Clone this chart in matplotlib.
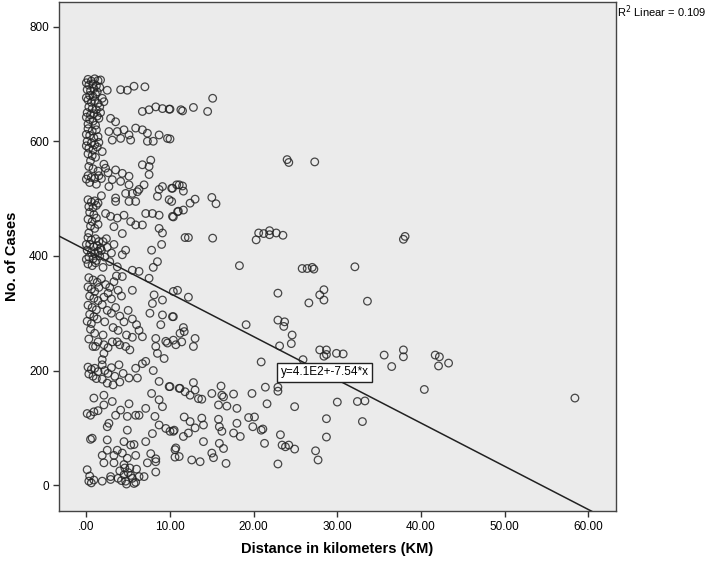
import matplotlib.pyplot as plt
import numpy as np

# distance (km), cases, grouped by region
near_column = [
    (0.2, 708), (0.6, 705), (1.0, 709), (1.4, 706), (0.3, 698), (0.8, 700), (1.2, 697),
    (0.1, 690), (0.5, 688), (0.9, 692), (1.3, 686), (0.4, 680), (0.8, 678), (1.1, 682),
    (0.2, 672), (0.6, 668), (1.0, 671), (1.4, 666), (0.3, 660), (0.7, 657), (1.2, 655),
    (0.1, 650), (0.5, 646), (0.9, 648), (1.3, 644), (0.4, 638), (0.8, 635), (1.5, 640),
    (0.2, 630), (1.1, 628), (1.7, 707), (1.9, 675), (0.0, 702), (1.6, 694), (0.0, 676),
    (1.6, 660), (0.0, 642), (1.7, 650),
    (0.2, 622), (0.7, 618), (1.2, 620), (0.4, 610), (0.9, 606), (1.4, 608), (0.1, 600),
    (0.6, 597), (1.0, 594), (0.3, 588), (0.8, 585), (1.3, 590), (0.2, 578), (0.7, 575),
    (1.1, 572), (0.5, 566), (1.9, 582), (0.0, 592), (1.5, 598), (0.0, 612),
    (0.3, 556), (0.8, 552), (1.4, 548), (0.2, 540), (0.6, 537), (1.0, 535), (1.5, 540),
    (0.4, 528), (1.2, 525), (0.0, 534),
    (0.2, 498), (0.6, 494), (1.0, 496), (1.4, 492), (0.3, 486), (0.8, 484), (1.2, 488),
    (0.4, 476), (0.9, 472), (0.2, 464), (0.7, 460), (1.2, 466), (0.5, 452), (1.0, 448),
    (0.3, 440), (1.4, 455),
    (0.2, 432), (0.6, 428), (1.1, 430), (1.5, 425), (0.4, 420), (0.9, 416), (1.3, 418),
    (0.1, 410), (0.6, 406), (1.0, 404), (1.4, 408), (0.3, 398), (0.8, 395), (1.2, 392),
    (0.2, 386), (0.7, 383), (1.1, 388), (1.6, 400), (0.0, 420), (1.7, 414), (0.0, 394),
    (0.3, 362), (0.8, 358), (1.3, 354), (0.2, 346), (0.6, 342), (1.0, 338), (1.5, 345),
    (0.4, 330), (0.9, 326), (1.4, 322),
    (0.2, 314), (0.7, 310), (1.2, 306), (0.4, 298), (0.9, 294), (0.1, 286), (0.6, 282),
    (1.3, 290),
    (0.5, 272), (1.0, 265), (0.3, 255), (1.4, 250), (0.8, 242), (1.1, 242),
    (0.2, 206), (0.6, 202), (1.0, 204), (1.4, 198), (0.3, 194), (0.8, 190), (1.2, 186),
    (1.9, 219), (1.9, 210),
    (0.9, 152), (0.1, 125), (0.5, 122), (0.9, 128), (1.4, 130),
    (0.7, 82), (0.5, 80),
    (0.1, 27), (0.3, 7), (0.9, 9), (0.4, 16), (0.6, 4),
]

inner_band = [
    (2.1, 669), (2.5, 689), (2.9, 640), (3.5, 634), (2.7, 617), (3.1, 602), (3.7, 617),
    (4.5, 620), (5.1, 611), (5.9, 623), (6.7, 620), (7.3, 614), (7.3, 600), (4.1, 605),
    (5.3, 602), (2.3, 553), (3.5, 550), (4.3, 544), (5.1, 539), (3.1, 533), (4.1, 530),
    (2.7, 521), (5.1, 524), (6.3, 516), (6.9, 524), (4.7, 509), (5.5, 509), (6.1, 512),
    (3.5, 501), (2.1, 560), (2.6, 545), (1.8, 535), (1.8, 505),
    (4.1, 690), (4.9, 689), (5.7, 696), (7.0, 695), (6.7, 652), (7.5, 655), (7.7, 567),
    (6.7, 559), (7.5, 556), (7.5, 542), (8.3, 660),
    (3.5, 495), (5.1, 495), (5.9, 495), (2.3, 474), (2.9, 469), (3.7, 466), (4.5, 471),
    (5.3, 460), (5.9, 454), (6.7, 454), (7.1, 474), (7.9, 474), (3.3, 451), (4.3, 439),
    (4.3, 402), (4.7, 410), (3.7, 381), (5.5, 375), (6.3, 373), (7.5, 361), (5.5, 340),
    (2.0, 425), (2.5, 415), (3.0, 405), (2.2, 398), (2.8, 390), (3.3, 420), (1.8, 410),
    (2.0, 380), (2.4, 430),
    (1.8, 360), (2.3, 350), (2.8, 345), (3.3, 355), (3.8, 340), (4.2, 330), (2.1, 328),
    (2.6, 335), (3.0, 325), (3.6, 365), (4.3, 364),
    (1.9, 315), (2.5, 305), (3.0, 300), (3.5, 310), (4.0, 295), (4.5, 285), (5.0, 305),
    (5.5, 290), (6.0, 280), (6.3, 270), (2.2, 285), (3.2, 275), (3.8, 270), (4.8, 262),
    (5.5, 258), (6.7, 259), (2.0, 262), (2.6, 240), (3.1, 250), (4.0, 245), (4.7, 242),
    (5.2, 236), (2.1, 245), (2.1, 230), (3.7, 250),
    (3.9, 210), (5.9, 204), (6.7, 212), (7.1, 216), (5.1, 187), (6.1, 187), (2.2, 200),
    (2.6, 195), (3.0, 205), (3.4, 190), (4.0, 180), (4.4, 195), (2.5, 178), (3.2, 175),
    (1.9, 185), (2.1, 157), (3.1, 146), (2.1, 140), (3.5, 122), (4.1, 131), (5.1, 142),
    (4.9, 120), (5.9, 122), (6.3, 122), (7.1, 134), (2.5, 102), (2.7, 108), (4.9, 96),
    (2.5, 79), (4.5, 76), (5.3, 70), (5.7, 71), (7.1, 76), (2.5, 61), (3.7, 61), (3.3, 52),
    (4.3, 56), (1.9, 52), (4.9, 47), (5.9, 52), (7.3, 39), (2.1, 39), (3.3, 39), (4.5, 36),
    (4.0, 25), (4.5, 18), (5.0, 22), (5.5, 12), (6.0, 28), (4.2, 8), (5.2, 30), (4.8, 2),
    (5.9, 5), (1.9, 7), (2.9, 15), (2.9, 10), (4.7, 7), (5.7, 3), (6.3, 15), (6.9, 15),
    (4.6, 30), (5.3, 17), (3.8, 12),
]

middle_band = [
    (8.7, 611), (9.7, 605), (9.1, 657), (9.9, 656), (11.3, 655), (8.7, 516), (9.1, 521),
    (10.3, 518), (11.1, 524), (8.5, 504), (9.9, 498), (8.7, 471), (10.3, 469), (10.9, 477),
    (8.7, 448), (9.1, 440), (8.1, 332), (9.1, 323), (7.9, 317), (9.1, 297), (10.3, 294),
    (8.9, 280), (8.3, 256), (9.5, 251), (8.3, 242), (8.5, 230), (9.3, 221), (9.7, 248),
    (10.7, 245), (8.7, 181), (9.9, 172), (11.1, 169), (8.7, 149), (9.1, 137), (8.7, 105),
    (9.5, 99), (10.5, 96), (10.7, 65), (11.1, 50), (8.3, 41), (8.3, 46), (8.3, 23),
    (7.7, 55), (8.0, 600), (8.0, 380), (8.5, 390), (7.8, 410), (9.0, 420), (7.6, 300),
    (8.0, 200), (7.8, 160), (8.2, 120), (7.9, 90), (11.7, 268),
    (10.0, 656), (11.5, 653), (12.8, 659), (14.5, 652), (15.1, 675), (10.0, 604),
    (10.2, 518), (10.8, 524), (11.5, 522), (11.6, 513), (10.2, 495), (12.4, 492),
    (13.0, 499), (15.0, 502), (15.5, 491), (10.4, 468), (11.0, 478), (11.6, 480),
    (11.8, 432), (12.2, 432), (15.1, 431),
    (10.4, 338), (10.9, 340), (12.2, 328), (10.4, 294), (11.6, 275), (11.2, 265),
    (10.4, 253), (11.4, 250), (13.0, 256), (12.8, 242), (19.1, 280),
    (10.0, 172), (11.2, 169), (11.8, 163), (12.4, 157), (12.8, 179), (13.0, 166),
    (13.4, 151), (13.8, 150), (15.0, 160), (16.1, 173), (16.2, 157), (16.4, 154),
    (15.8, 140), (16.8, 138), (17.6, 159), (18.0, 134), (19.8, 160), (21.4, 171),
    (21.6, 142), (11.7, 119), (12.4, 111), (13.8, 117), (14.0, 105), (13.0, 100),
    (12.2, 91), (11.6, 85), (10.0, 94), (10.4, 94), (15.8, 115), (15.9, 102), (16.2, 94),
    (17.6, 91), (18.0, 108), (18.4, 85), (19.4, 118), (20.1, 119), (19.9, 102), (20.9, 96),
    (21.1, 98), (14.0, 76), (15.9, 73), (16.4, 64), (21.3, 73), (10.6, 62), (10.6, 49),
    (12.6, 44), (13.6, 41), (15.0, 56), (15.2, 48), (16.7, 38),
]

outer_band = [
    (22.9, 335), (22.9, 288), (23.7, 285), (23.6, 277), (24.6, 262), (24.5, 247),
    (23.1, 243), (20.9, 215), (22.9, 171), (22.9, 164), (24.9, 137), (23.2, 88),
    (23.4, 70), (23.8, 67), (24.2, 70), (24.9, 63), (22.9, 37), (27.4, 60), (27.7, 44),
    (24.0, 568), (24.2, 563), (27.3, 564), (20.3, 428), (20.6, 440), (21.2, 439),
    (21.9, 444), (21.9, 437), (22.7, 440), (23.5, 436), (18.3, 383), (25.8, 378),
    (26.4, 378), (27.0, 380), (27.2, 377),
    (38.1, 434), (37.9, 429), (32.1, 381), (28.4, 341), (27.9, 332), (28.4, 323),
    (26.6, 318), (33.6, 321), (27.9, 236), (28.7, 236), (28.7, 228), (29.9, 230),
    (30.7, 229), (28.4, 225), (25.9, 219), (35.6, 227), (37.9, 236), (37.9, 224),
    (41.7, 227), (42.2, 224), (42.1, 208), (43.3, 213), (36.5, 207), (40.4, 167),
    (58.4, 152), (30.0, 145), (32.4, 146), (33.3, 147), (28.7, 116), (33.0, 111),
    (28.7, 84),
]

fit_intercept = 410
fit_slope = -7.54
r_squared = 0.109

points = np.array(near_column + inner_band + middle_band + outer_band)
distance_km = points[:, 0]
cases = points[:, 1]

plt.rcParams['font.family'] = ['Liberation Sans', 'DejaVu Sans']

fig = plt.figure(figsize=(7.17, 5.66), dpi=100)
ax = fig.add_axes([0.0819, 0.0972, 0.7771, 0.8993])
ax.set_facecolor('#ebebeb')

ax.scatter(distance_km, cases, s=30, facecolors='none', edgecolors='#222222',
           linewidths=0.9, alpha=0.82, zorder=3)

xmin, xmax = -3.3, 63.3
line_x = np.array([xmin, xmax])
ax.plot(line_x, fit_intercept + fit_slope * line_x, color='#222222', lw=1.1, zorder=4)

ax.set_xlim(xmin, xmax)
ax.set_ylim(-45, 843)

ax.set_xticks(range(0, 61, 10))
ax.set_xticklabels(['.00'] + [f'{v}.00' for v in range(10, 61, 10)])
ax.set_yticks(range(0, 801, 200))
ax.tick_params(axis='both', labelsize=8.5, length=4, width=1, color='#333333', pad=3)

for s in ax.spines.values():
    s.set_color('#444444')
    s.set_linewidth(1)

ax.set_xlabel('Distance in kilometers (KM)', fontsize=10.5, fontweight='bold', labelpad=7)
ax.set_ylabel('No. of Cases', fontsize=10.5, fontweight='bold', labelpad=7)

ax.text(28.5, 197, f'y={fit_intercept / 100:.1f}E2+{fit_slope}*x', ha='center', va='center',
        fontsize=8.5, zorder=5,
        bbox=dict(boxstyle='square,pad=0.3', facecolor='white', edgecolor='#222222', lw=1))

fig.text(0.861, 0.979, f'R$^2$ Linear = {r_squared}', fontsize=8, ha='left', va='center')

fig.savefig('out.png', dpi=100)
